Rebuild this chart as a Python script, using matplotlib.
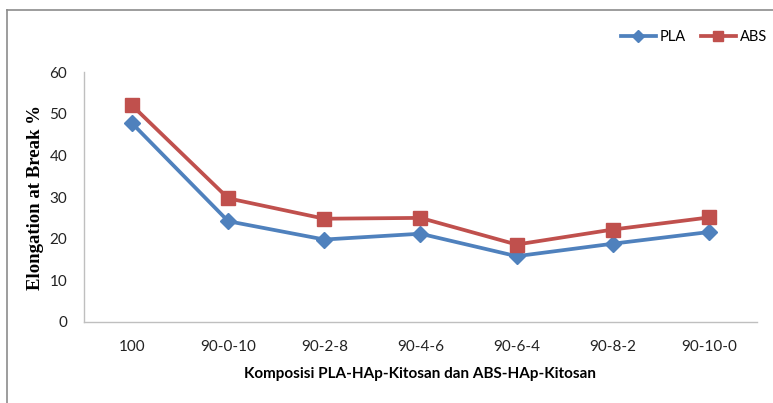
import matplotlib.pyplot as plt
from matplotlib.lines import Line2D

# Elongation at break for each composition
komposisi = ['100', '90-0-10', '90-2-8', '90-4-6', '90-6-4', '90-8-2', '90-10-0']
pla = [47.7, 24.2, 19.8, 21.2, 15.8, 18.8, 21.6]
abs_ = [52.0, 29.7, 24.8, 25.0, 18.6, 22.2, 25.1]

blue = '#4F81BD'
red = '#C0504D'

fig = plt.figure(figsize=(7.73, 4.03), dpi=100)
ax = fig.add_axes([0.1087, 0.201, 0.8705, 0.620])

x = range(len(komposisi))
ax.plot(x, pla, color=blue, lw=2.7, marker='D', ms=8.5, label='PLA')
ax.plot(x, abs_, color=red, lw=2.7, marker='s', ms=9.5, label='ABS')

ax.set_xlim(-0.5, len(komposisi) - 0.5)
ax.set_ylim(0, 60)
ax.set_yticks(range(0, 61, 10))
ax.set_xticks(list(x))
ax.set_xticklabels(komposisi)
ax.tick_params(length=0, labelsize=11, colors='#222222')
ax.tick_params(axis='x', pad=13)
ax.tick_params(axis='y', pad=12)
for t in ax.get_xticklabels() + ax.get_yticklabels():
    t.set_family('Lato')

for side in ['top', 'right']:
    ax.spines[side].set_visible(False)
for side in ['left', 'bottom']:
    ax.spines[side].set_color('#BFBFBF')
    ax.spines[side].set_linewidth(1.0)

ax.set_ylabel('Elongation at Break %', family='Liberation Serif',
              fontweight='bold', fontsize=13.5, labelpad=4)
ax.set_xlabel('Komposisi PLA-HAp-Kitosan dan ABS-HAp-Kitosan', family='Lato',
              fontweight='bold', fontsize=11, labelpad=9)

leg = ax.legend(loc='upper right', bbox_to_anchor=(1.035, 1.22), ncol=2,
                frameon=False, fontsize=10.5, handlelength=2.4,
                columnspacing=1.0, handletextpad=0.3, markerscale=0.75)
for t in leg.get_texts():
    t.set_family('Lato')

# outer chart frame
fig.add_artist(Line2D([0.009, 0.009], [0.0, 0.975], color='#8C8C8C', lw=1.2))
fig.add_artist(Line2D([0.009, 1.0], [0.975, 0.975], color='#8C8C8C', lw=1.2))

fig.savefig('out.png', dpi=100)
